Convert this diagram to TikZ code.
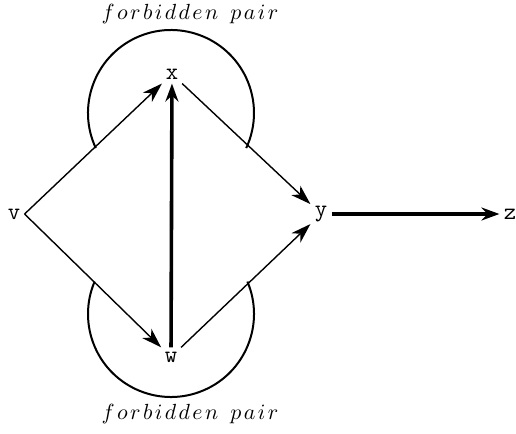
\documentclass[tikz,border=0pt]{standalone}
\usepackage{tikz}
\usetikzlibrary{arrows.meta}
\newcommand{\ls}{\mskip2mu}

\begin{document}
\begin{tikzpicture}[x=0.5pt,y=-0.5pt,
  vtx/.style={font=\ttfamily\large, inner sep=2pt},
  pairlabel/.style={font=\fontsize{10.5}{12}\selectfont},
  thinarr/.style={line width=0.7pt, -{Stealth[length=10pt,width=6.5pt,inset=3pt]}},
  thickarr/.style={line width=1.8pt, -{Stealth[length=9pt,width=6.5pt,inset=3pt]}},
  pairarc/.style={line width=1pt}]
\useasboundingbox (0,0) rectangle (516,434);
% vertices
\node[vtx] (v) at (14,214) {v};
\node[vtx] (x) at (172,74) {x};
\node[vtx] (y) at (321,214) {y};
\node[vtx] (w) at (171,357) {w};
\node[vtx] (z) at (510,214) {z};
% forbidden pairs
\draw[pairarc] (171,113) ++(155:83) arc (155:385:83);
\draw[pairarc] (171,314) ++(-23:83) arc (-23:203:83);
\node[pairlabel] (toplabel) at (190,14)
  {$f\ls o\ls r\ls b\ls i\ls d\ls d\ls e\ls n\;\;p\ls a\ls i\ls r$};
\node[pairlabel] (botlabel) at (190,414)
  {$f\ls o\ls r\ls b\ls i\ls d\ls d\ls e\ls n\;\;p\ls a\ls i\ls r$};
% edges
\draw[thinarr] (v.east) -- (x);
\draw[thinarr] (v.east) -- (w);
\draw[thinarr] (x) -- (y);
\draw[thinarr] (w) -- (y);
\draw[thickarr] (w) -- (x);
\draw[thickarr] (y) -- (z);
\end{tikzpicture}
\end{document}
